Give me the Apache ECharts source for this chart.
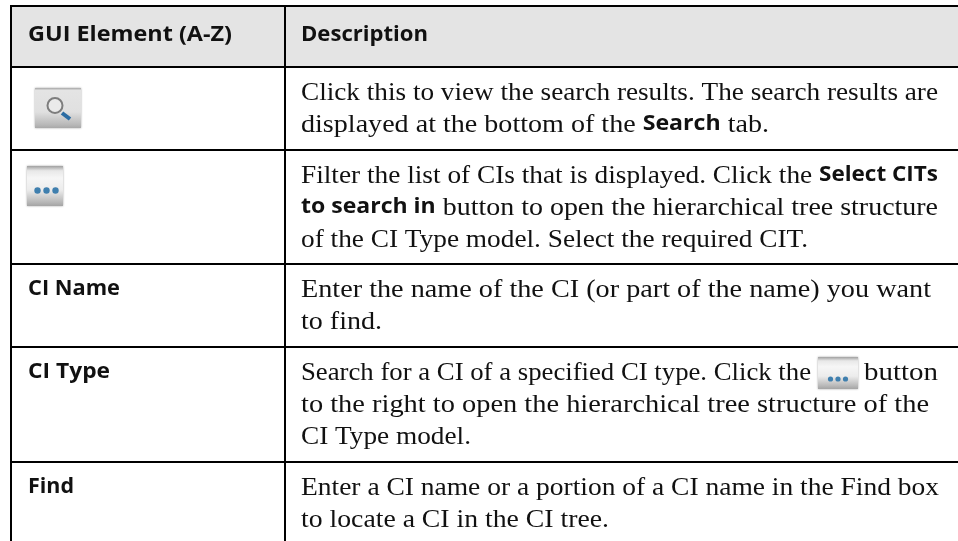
<!DOCTYPE html>
<html lang="en">
<head>
<meta charset="UTF-8">
<title>GUI Element table</title>
<script src="https://cdn.jsdelivr.net/npm/echarts@6/dist/echarts.min.js"></script>
<style>
    html,body{margin:0;padding:0;background:#fff;}
    #main{width:958px;height:541px;}
</style>
</head>
<body>
<div id="main"></div>
<script>
    // table content, ** marks bold runs
    var headers = ['GUI Element (A-Z)', 'Description'];
    var elementNames = ['', '', 'CI Name', 'CI Type', 'Find'];
    var row1Lines = ['Click this to view the search results. The search results are', 'displayed at the bottom of the **Search** tab.'];
    var row2Lines = ['Filter the list of CIs that is displayed. Click the **Select CITs**', '**to search in** button to open the hierarchical tree structure', 'of the CI Type model. Select the required CIT.'];
    var row3Lines = ['Enter the name of the CI (or part of the name) you want', 'to find.'];
    var row4Lines = ['Search for a CI of a specified CI type. Click the', 'to the right to open the hierarchical tree structure of the', 'CI Type model.'];
    var row5Lines = ['Enter a CI name or a portion of a CI name in the Find box', 'to locate a CI in the CI tree.'];
    var row4Tail = 'button';

    // layout
    var ruleY = [6, 67, 150, 264, 347, 462];
    var baselines = [[99, 131], [182, 214, 246], [296, 328], [379, 411, 443], [494, 526]];
    var lineEnds = [[938, 769], [938, 938, 808], [931, 382], [811, 929, 471], [939, 609]];
    var headEnds = [232, 428];
    var nameEnds = [0, 0, 120, 110, 74];
    var leftX = 11, midX = 285, textX = 301, nameX = 28;
    var serif = '"Liberation Serif"', sans = '"Open Sans"';
    var bodySize = 25.5, boldSize = 21, headSize = 22;
    // text is anchored on its middle, these go from middle to baseline
    var bodyOffset = 6, boldOffset = 7.4;
    var textColor = '#111';

    var measure = document.createElement('canvas').getContext('2d');
    function textWidth(font, s){
        measure.font = font;
        return measure.measureText(s).width;
    }

    var els = [];
    els.push({type:'rect', shape:{x:leftX,y:ruleY[0],width:958-leftX,height:ruleY[1]-ruleY[0]}, style:{fill:'#e4e4e4'}});

    function line(x1,y1,x2,y2){
        els.push({type:'line', z:5, shape:{x1:x1,y1:y1,x2:x2,y2:y2}, style:{stroke:'#000',lineWidth:2}});
    }
    ruleY.forEach(function(y){ line(leftX-1,y,958,y); });
    line(leftX,ruleY[0],leftX,541);
    line(midX,ruleY[0],midX,541);

    // one text line, regular and bold runs drawn one after another and fitted to its end
    function addLine(s,x,end,base){
        var runs = s.split('**').map(function(p,i){
            return {text:p, off:(i%2 ? boldOffset : bodyOffset), font:(i%2 ? 'bold '+boldSize+'px '+sans : bodySize+'px '+serif)};
        }).filter(function(r){ return r.text; });
        var total = 0;
        runs.forEach(function(r){ total += textWidth(r.font,r.text); });
        var k = (end-x)/total, cx = x;
        runs.forEach(function(r){
            els.push({type:'text', x:cx, y:base-r.off, scaleX:k, style:{
                text:r.text, font:r.font, fill:textColor, align:'left', verticalAlign:'middle'
            }});
            cx += textWidth(r.font,r.text)*k;
        });
    }
    function addBold(s,x,end,base){
        var font = 'bold '+headSize+'px '+sans;
        els.push({type:'text', x:x, y:base-boldOffset, scaleX:(end-x)/textWidth(font,s), style:{
            text:s, font:font, fill:textColor, align:'left', verticalAlign:'middle'
        }});
    }

    addBold(headers[0],nameX,headEnds[0],42);
    addBold(headers[1],textX,headEnds[1],42);
    var allRows = [row1Lines,row2Lines,row3Lines,row4Lines,row5Lines];
    allRows.forEach(function(rows,r){
        rows.forEach(function(s,i){ addLine(s,textX,lineEnds[r][i],baselines[r][i]); });
        if(elementNames[r]) addBold(elementNames[r],nameX,nameEnds[r],baselines[r][0]);
    });
    addLine(row4Tail,864,938,baselines[3][0]);

    // icon buttons
    function btnBody(x,y,w,h,stops){
        els.push({type:'rect', shape:{x:x,y:y,width:w,height:h}, style:{
            fill:new echarts.graphic.LinearGradient(0,0,0,1,stops),
            shadowBlur:2, shadowColor:'rgba(0,0,0,0.35)'
        }});
    }
    var plainStops = [{offset:0,color:'#a6a6a6'},{offset:0.06,color:'#e4e4e4'},{offset:0.6,color:'#e0e0e0'},{offset:0.92,color:'#b8b8b8'},{offset:1,color:'#a8a8a8'}];
    var lightStops = [{offset:0,color:'#a0a0a0'},{offset:0.12,color:'#e8e8e8'},{offset:0.3,color:'#f6f6f6'},{offset:0.6,color:'#ececec'},{offset:0.9,color:'#b8b8b8'},{offset:1,color:'#a4a4a4'}];
    function dots(x,y,gap,r){
        [0,1,2].forEach(function(i){
            els.push({type:'circle', shape:{cx:x+i*gap,cy:y,r:r}, style:{fill:'#3f7fae'}});
        });
    }
    btnBody(35,88,46,40,plainStops);
    els.push({type:'line', shape:{x1:62,y1:113,x2:70,y2:119}, style:{stroke:'#2b6ca3',lineWidth:4}});
    els.push({type:'circle', shape:{cx:55,cy:105.5,r:7.5}, style:{fill:'#eaeaea',stroke:'#7d7d7d',lineWidth:2}});
    btnBody(27,166,36,40,lightStops);
    dots(37.5,190.5,9,3.2);
    btnBody(818,357,40,32,lightStops);
    dots(830.5,379,7.5,2.6);

    var myChart = echarts.init(document.getElementById('main'));
    myChart.setOption({animation:false, graphic:{elements:els}});
</script>
</body>
</html>
